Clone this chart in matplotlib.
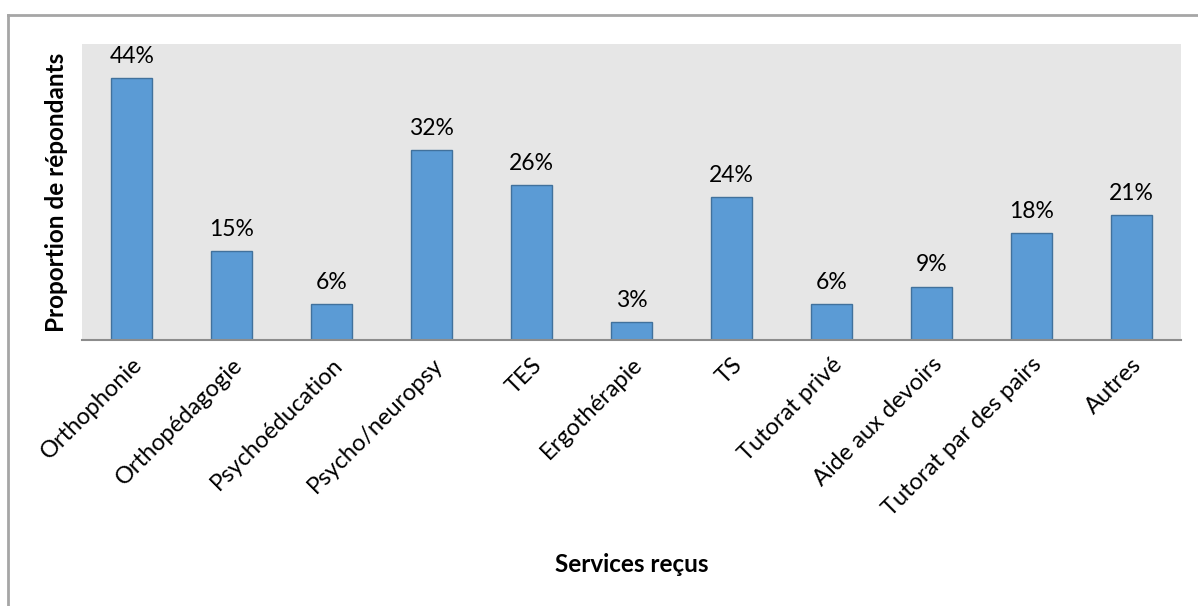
import numpy as np
import matplotlib.pyplot as plt
from matplotlib.lines import Line2D

plt.rcParams["font.family"] = ["Lato", "DejaVu Sans"]

services = ["Orthophonie", "Orthopédagogie", "Psychoéducation", "Psycho/neuropsy", "TES",
            "Ergothérapie", "TS", "Tutorat privé", "Aide aux devoirs",
            "Tutorat par des pairs", "Autres"]
proportions = [44, 15, 6, 32, 26, 3, 24, 6, 9, 18, 21]

fig = plt.figure(figsize=(11.98, 6.06), dpi=100)
ax = fig.add_axes([82 / 1198, 1 - 340 / 606, (1181 - 82) / 1198, (340 - 44) / 606])

x = np.arange(len(services))
bars = ax.bar(x, proportions, width=0.41, color="#5b9bd5", edgecolor="#41719c", linewidth=1)
ax.set_facecolor("#e6e6e6")
ax.set_xlim(-0.5, len(services) - 0.5)
ax.set_ylim(0, 49.8)

for b, v in zip(bars, proportions):
    ax.annotate(f"{v}%", (b.get_x() + b.get_width() / 2, v), xytext=(0, 8),
                textcoords="offset points", ha="center", va="bottom", fontsize=16.5)

ax.set_yticks([])
ax.set_xticks(x)
ax.set_xticklabels(services, rotation=45, ha="right", rotation_mode="anchor", fontsize=17)
ax.tick_params(axis="x", length=0, pad=10)
for s in ["top", "right", "left"]:
    ax.spines[s].set_visible(False)
ax.spines["bottom"].set_color("#8c8c8c")
ax.spines["bottom"].set_linewidth(1.5)

ax.set_ylabel("Proportion de répondants", fontsize=17.5, fontweight="bold", labelpad=10)
fig.text(632 / 1198, 1 - 565 / 606, "Services reçus", fontsize=17.5, fontweight="bold",
         ha="center", va="center")

# outer chart border (left and top)
fig.add_artist(Line2D([8 / 1198, 8 / 1198], [0, 1 - 15 / 606], color="#a6a6a6", lw=2,
                      transform=fig.transFigure))
fig.add_artist(Line2D([8 / 1198, 1], [1 - 15 / 606, 1 - 15 / 606], color="#a6a6a6", lw=2,
                      transform=fig.transFigure))

fig.savefig("out.png", dpi=100)
